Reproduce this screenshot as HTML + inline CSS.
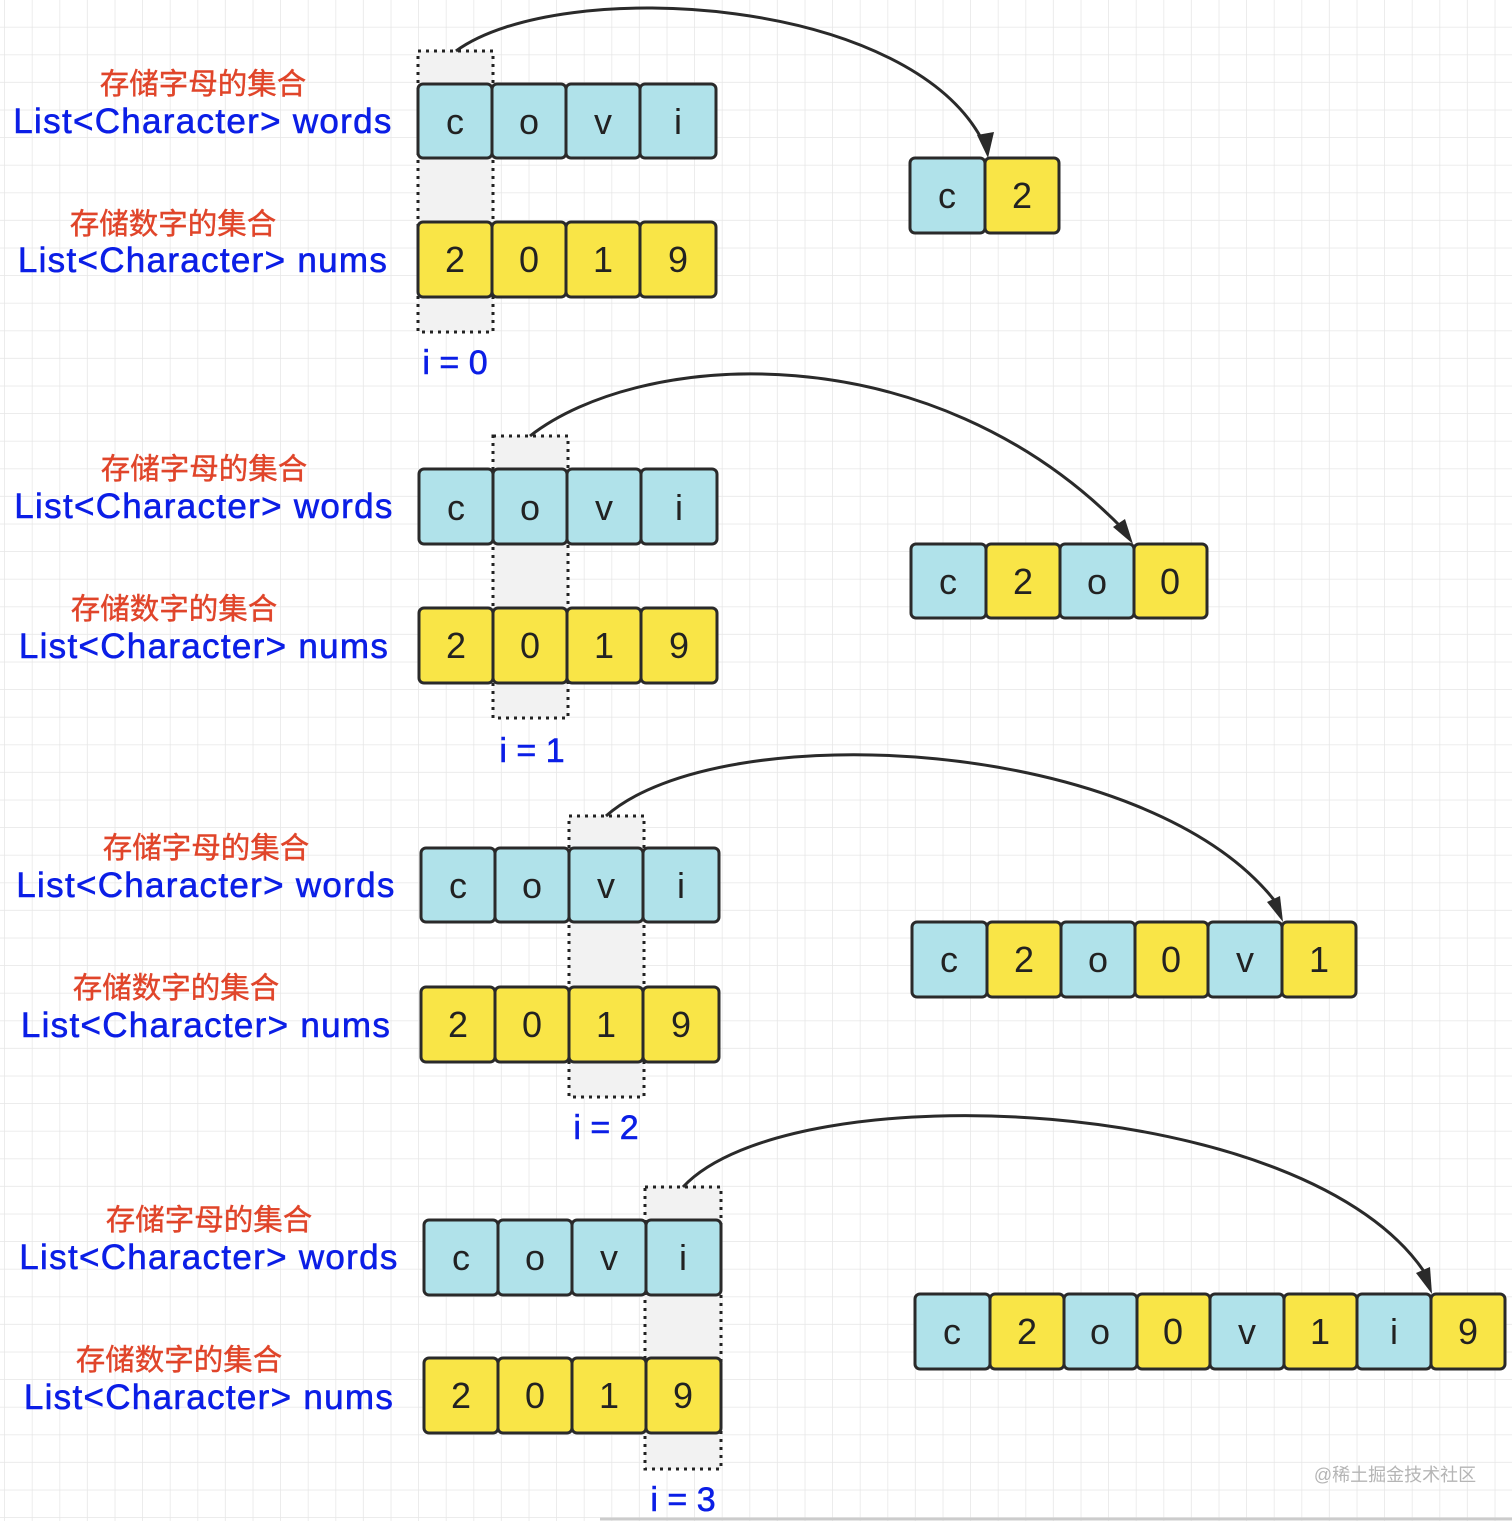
<!DOCTYPE html>
<html><head><meta charset="utf-8"><style>
html,body{margin:0;padding:0;background:#fff}
svg{display:block}
.c{font-family:"Liberation Sans",sans-serif;font-size:36px;fill:#222;text-anchor:middle}
.r{font-family:"Liberation Sans","Noto Sans CJK SC",sans-serif;font-size:29.5px;fill:#e0452a;text-anchor:middle;stroke:#e0452a;stroke-width:0.4}
.b{font-family:"Liberation Sans",sans-serif;font-size:35px;fill:#0b1ee6;text-anchor:middle;letter-spacing:1.3px;stroke:#0b1ee6;stroke-width:0.6}
.i{font-family:"Liberation Sans",sans-serif;font-size:34px;fill:#0b1ee6;text-anchor:middle;stroke:#0b1ee6;stroke-width:0.6}
.bl{fill:#b0e2ea;stroke:#2a2a2a;stroke-width:3}
.ye{fill:#f9e547;stroke:#2a2a2a;stroke-width:3}
.dot{fill:#f2f2f2;stroke:#222;stroke-width:3;stroke-dasharray:3 5}
.ar{fill:none;stroke:#2a2a2a;stroke-width:3}
</style></head><body>
<svg width="1512" height="1521" viewBox="0 0 1512 1521" xmlns="http://www.w3.org/2000/svg">
<defs>
<pattern id="g" width="27.6" height="27.6" patternUnits="userSpaceOnUse" x="5" y="0">
<path d="M27.6 0V27.6M0 27.6H27.6" stroke="#e6e6e6" stroke-width="1.5" fill="none"/>
</pattern>
</defs>
<rect width="1512" height="1521" fill="url(#g)"/>
<line x1="600" y1="1519" x2="1512" y2="1519" stroke="#ccc" stroke-width="3"/>

<!-- Block 1 -->
<rect class="dot" x="418" y="51" width="75" height="281"/>
<path class="ar" d="M456 51 C560 -25 920 -5 987 150"/>
<path d="M977 135 L988 158 L994 132z" fill="#2a2a2a"/>
<text class="r" x="203" y="94">存储字母的集合</text>
<text class="b" x="203" y="133">List&lt;Character&gt; words</text>
<text class="r" x="173" y="234">存储数字的集合</text>
<text class="b" x="203" y="272">List&lt;Character&gt; nums</text>
<rect class="bl" x="418" y="84" width="74" height="74" rx="5"/><text class="c" x="455" y="134">c</text>
<rect class="bl" x="492" y="84" width="74" height="74" rx="5"/><text class="c" x="529" y="134">o</text>
<rect class="bl" x="566" y="84" width="74" height="74" rx="5"/><text class="c" x="603" y="134">v</text>
<rect class="bl" x="640" y="84" width="76" height="74" rx="5"/><text class="c" x="678" y="134">i</text>
<rect class="ye" x="418" y="222" width="74" height="75" rx="5"/><text class="c" x="455" y="272">2</text>
<rect class="ye" x="492" y="222" width="74" height="75" rx="5"/><text class="c" x="529" y="272">0</text>
<rect class="ye" x="566" y="222" width="74" height="75" rx="5"/><text class="c" x="603" y="272">1</text>
<rect class="ye" x="640" y="222" width="76" height="75" rx="5"/><text class="c" x="678" y="272">9</text>
<text class="i" x="455" y="374">i = 0</text>
<rect class="bl" x="910" y="158" width="75" height="75" rx="5"/><text class="c" x="947" y="208">c</text>
<rect class="ye" x="985" y="158" width="74" height="75" rx="5"/><text class="c" x="1022" y="208">2</text>

<!-- Block 2 -->
<rect class="dot" x="493" y="436" width="75" height="282"/>
<path class="ar" d="M530 436 C640 350 930 330 1124 530"/>
<path d="M1113 527 L1133 544 L1125 519z" fill="#2a2a2a"/>
<text class="r" x="204" y="479">存储字母的集合</text>
<text class="b" x="204" y="518">List&lt;Character&gt; words</text>
<text class="r" x="174" y="619">存储数字的集合</text>
<text class="b" x="204" y="658">List&lt;Character&gt; nums</text>
<rect class="bl" x="419" y="469" width="74" height="75" rx="5"/><text class="c" x="456" y="520">c</text>
<rect class="bl" x="493" y="469" width="74" height="75" rx="5"/><text class="c" x="530" y="520">o</text>
<rect class="bl" x="567" y="469" width="74" height="75" rx="5"/><text class="c" x="604" y="520">v</text>
<rect class="bl" x="641" y="469" width="76" height="75" rx="5"/><text class="c" x="679" y="520">i</text>
<rect class="ye" x="419" y="608" width="74" height="75" rx="5"/><text class="c" x="456" y="658">2</text>
<rect class="ye" x="493" y="608" width="74" height="75" rx="5"/><text class="c" x="530" y="658">0</text>
<rect class="ye" x="567" y="608" width="74" height="75" rx="5"/><text class="c" x="604" y="658">1</text>
<rect class="ye" x="641" y="608" width="76" height="75" rx="5"/><text class="c" x="679" y="658">9</text>
<text class="i" x="532" y="762">i = 1</text>
<rect class="bl" x="911" y="544" width="75" height="74" rx="5"/><text class="c" x="948" y="594">c</text>
<rect class="ye" x="986" y="544" width="74" height="74" rx="5"/><text class="c" x="1023" y="594">2</text>
<rect class="bl" x="1060" y="544" width="74" height="74" rx="5"/><text class="c" x="1097" y="594">o</text>
<rect class="ye" x="1134" y="544" width="73" height="74" rx="5"/><text class="c" x="1170" y="594">0</text>

<!-- Block 3 -->
<rect class="dot" x="569" y="816" width="75" height="281"/>
<path class="ar" d="M606 816 C720 715 1150 735 1278 905"/>
<path d="M1267 902 L1283 922 L1280 896z" fill="#2a2a2a"/>
<text class="r" x="206" y="858">存储字母的集合</text>
<text class="b" x="206" y="897">List&lt;Character&gt; words</text>
<text class="r" x="176" y="998">存储数字的集合</text>
<text class="b" x="206" y="1037">List&lt;Character&gt; nums</text>
<rect class="bl" x="421" y="848" width="74" height="74" rx="5"/><text class="c" x="458" y="898">c</text>
<rect class="bl" x="495" y="848" width="74" height="74" rx="5"/><text class="c" x="532" y="898">o</text>
<rect class="bl" x="569" y="848" width="74" height="74" rx="5"/><text class="c" x="606" y="898">v</text>
<rect class="bl" x="643" y="848" width="76" height="74" rx="5"/><text class="c" x="681" y="898">i</text>
<rect class="ye" x="421" y="987" width="74" height="75" rx="5"/><text class="c" x="458" y="1037">2</text>
<rect class="ye" x="495" y="987" width="74" height="75" rx="5"/><text class="c" x="532" y="1037">0</text>
<rect class="ye" x="569" y="987" width="74" height="75" rx="5"/><text class="c" x="606" y="1037">1</text>
<rect class="ye" x="643" y="987" width="76" height="75" rx="5"/><text class="c" x="681" y="1037">9</text>
<text class="i" x="606" y="1139">i = 2</text>
<rect class="bl" x="912" y="922" width="75" height="75" rx="5"/><text class="c" x="949" y="972">c</text>
<rect class="ye" x="987" y="922" width="74" height="75" rx="5"/><text class="c" x="1024" y="972">2</text>
<rect class="bl" x="1061" y="922" width="74" height="75" rx="5"/><text class="c" x="1098" y="972">o</text>
<rect class="ye" x="1135" y="922" width="73" height="75" rx="5"/><text class="c" x="1171" y="972">0</text>
<rect class="bl" x="1208" y="922" width="74" height="75" rx="5"/><text class="c" x="1245" y="972">v</text>
<rect class="ye" x="1282" y="922" width="74" height="75" rx="5"/><text class="c" x="1319" y="972">1</text>

<!-- Block 4 -->
<rect class="dot" x="645" y="1187" width="76" height="282"/>
<path class="ar" d="M683 1187 C790 1072 1310 1092 1427 1276"/>
<path d="M1416 1273 L1432 1294 L1430 1267z" fill="#2a2a2a"/>
<text class="r" x="209" y="1230">存储字母的集合</text>
<text class="b" x="209" y="1269">List&lt;Character&gt; words</text>
<text class="r" x="179" y="1370">存储数字的集合</text>
<text class="b" x="209" y="1409">List&lt;Character&gt; nums</text>
<rect class="bl" x="424" y="1220" width="74" height="75" rx="5"/><text class="c" x="461" y="1270">c</text>
<rect class="bl" x="498" y="1220" width="74" height="75" rx="5"/><text class="c" x="535" y="1270">o</text>
<rect class="bl" x="572" y="1220" width="74" height="75" rx="5"/><text class="c" x="609" y="1270">v</text>
<rect class="bl" x="646" y="1220" width="75" height="75" rx="5"/><text class="c" x="683" y="1270">i</text>
<rect class="ye" x="424" y="1358" width="74" height="75" rx="5"/><text class="c" x="461" y="1408">2</text>
<rect class="ye" x="498" y="1358" width="74" height="75" rx="5"/><text class="c" x="535" y="1408">0</text>
<rect class="ye" x="572" y="1358" width="74" height="75" rx="5"/><text class="c" x="609" y="1408">1</text>
<rect class="ye" x="646" y="1358" width="75" height="75" rx="5"/><text class="c" x="683" y="1408">9</text>
<text class="i" x="683" y="1511">i = 3</text>
<rect class="bl" x="915" y="1294" width="75" height="75" rx="5"/><text class="c" x="952" y="1344">c</text>
<rect class="ye" x="990" y="1294" width="74" height="75" rx="5"/><text class="c" x="1027" y="1344">2</text>
<rect class="bl" x="1064" y="1294" width="73" height="75" rx="5"/><text class="c" x="1100" y="1344">o</text>
<rect class="ye" x="1137" y="1294" width="73" height="75" rx="5"/><text class="c" x="1173" y="1344">0</text>
<rect class="bl" x="1210" y="1294" width="74" height="75" rx="5"/><text class="c" x="1247" y="1344">v</text>
<rect class="ye" x="1284" y="1294" width="73" height="75" rx="5"/><text class="c" x="1320" y="1344">1</text>
<rect class="bl" x="1357" y="1294" width="74" height="75" rx="5"/><text class="c" x="1394" y="1344">i</text>
<rect class="ye" x="1431" y="1294" width="74" height="75" rx="5"/><text class="c" x="1468" y="1344">9</text>

<text x="1395" y="1481" style="font-family:'Liberation Sans','Noto Sans CJK SC',sans-serif;font-size:18px;fill:#b5b5b5;text-anchor:middle">@稀土掘金技术社区</text>
</svg>
</body></html>
